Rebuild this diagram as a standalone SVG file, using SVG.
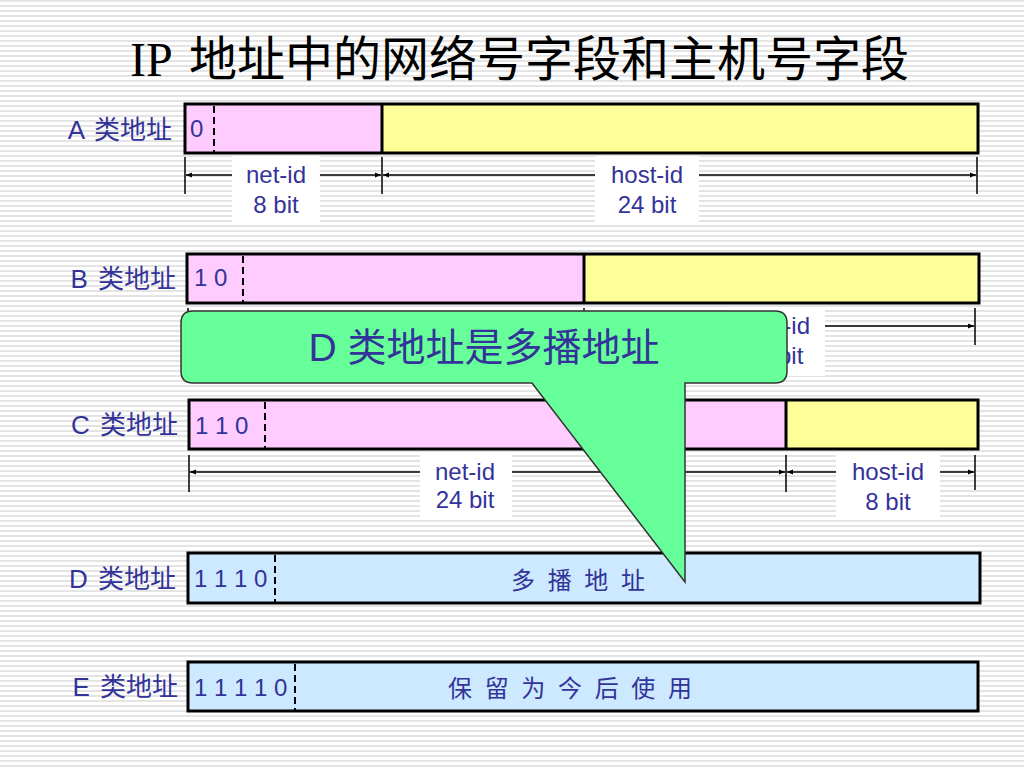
<svg xmlns="http://www.w3.org/2000/svg" width="1024" height="768" viewBox="0 0 1024 768">
<defs>
<pattern id="stripes" width="8" height="5" patternUnits="userSpaceOnUse">
<rect width="8" height="5" fill="#ffffff"/>
<rect y="0" width="8" height="2" fill="#e4e4e4"/>
</pattern>
<marker id="arr" viewBox="0 0 10 10" refX="10" refY="5" markerWidth="10" markerHeight="6" markerUnits="userSpaceOnUse" orient="auto-start-reverse">
<path d="M0,1 L10,5 L0,9 z" fill="#000"/>
</marker>
<style>
.lbl{font-family:"Liberation Sans","Noto Sans CJK SC",sans-serif;font-size:26px;fill:#333399;text-anchor:end;word-spacing:3px}
.bits{font-family:"Liberation Sans","Noto Sans CJK SC",sans-serif;font-size:24px;fill:#333399}
.dim{font-family:"Liberation Sans","Noto Sans CJK SC",sans-serif;font-size:24px;fill:#333399;text-anchor:middle}
.cn{font-family:"Liberation Sans","Noto Sans CJK SC",sans-serif;font-size:24px;fill:#333399;text-anchor:middle;word-spacing:6px}
.bar{stroke:#000;stroke-width:3}
.pink{fill:#ffccff}
.yel{fill:#ffff99}
.blue{fill:#cce9ff}
.dash{stroke:#000;stroke-width:2;stroke-dasharray:7,4}
.tick{stroke:#000;stroke-width:1.5}
.dl{stroke:#000;stroke-width:1.5;marker-start:url(#arr);marker-end:url(#arr)}
.wb{fill:#ffffff}
</style>
</defs>
<rect width="1024" height="768" fill="url(#stripes)"/>
<text x="130" y="76" font-family="'Liberation Serif','Noto Sans CJK SC',serif" font-size="48" fill="#000"><tspan>IP </tspan><tspan font-family="'Noto Sans CJK SC',sans-serif" dx="6">地址中的网络号字段和主机号字段</tspan></text>

<g id="classA">
<text class="lbl" x="172" y="139">A 类地址</text>
<rect class="pink" x="185" y="104" width="197" height="49"/>
<rect class="yel" x="382" y="104" width="596" height="49"/>
<rect class="bar" x="185" y="104" width="793" height="49" fill="none"/>
<line class="bar" x1="382" y1="104" x2="382" y2="153"/>
<line class="dash" x1="214" y1="106" x2="214" y2="152"/>
<text class="bits" x="190" y="137">0</text>
</g>
<g id="classA-dims">
<line class="tick" x1="185" y1="157" x2="185" y2="194"/>
<line class="tick" x1="382" y1="157" x2="382" y2="194"/>
<line class="tick" x1="977" y1="157" x2="977" y2="194"/>
<line class="dl" x1="186" y1="175" x2="381" y2="175"/>
<line class="dl" x1="383" y1="175" x2="976" y2="175"/>
<rect class="wb" x="232" y="156" width="88" height="66"/>
<text class="dim" x="276" y="183">net-id</text>
<text class="dim" x="276" y="213">8 bit</text>
<rect class="wb" x="595" y="156" width="104" height="66"/>
<text class="dim" x="647" y="183">host-id</text>
<text class="dim" x="647" y="213">24 bit</text>
</g>

<g id="classB">
<text class="lbl" x="176" y="288">B 类地址</text>
<rect class="pink" x="187" y="254" width="397" height="49"/>
<rect class="yel" x="584" y="254" width="395" height="49"/>
<rect class="bar" x="187" y="254" width="792" height="49" fill="none"/>
<line class="bar" x1="584" y1="254" x2="584" y2="303"/>
<line class="dash" x1="243" y1="256" x2="243" y2="302"/>
<text class="bits" x="194" y="286">1 0</text>
</g>
<g id="classB-dims">
<line class="tick" x1="188" y1="308" x2="188" y2="345"/>
<line class="tick" x1="584" y1="308" x2="584" y2="345"/>
<line class="tick" x1="975" y1="308" x2="975" y2="345"/>
<line class="dl" x1="189" y1="326" x2="583" y2="326"/>
<line class="dl" x1="585" y1="326" x2="974" y2="326"/>
<rect class="wb" x="728" y="310" width="97" height="66"/>
<text class="dim" x="774" y="334">host-id</text>
<text class="dim" x="774" y="364">16 bit</text>
</g>

<g id="classC">
<text class="lbl" x="178" y="434">C 类地址</text>
<rect class="pink" x="189" y="400" width="597" height="49"/>
<rect class="yel" x="786" y="400" width="192" height="49"/>
<rect class="bar" x="189" y="400" width="789" height="49" fill="none"/>
<line class="bar" x1="786" y1="400" x2="786" y2="449"/>
<line class="dash" x1="265" y1="402" x2="265" y2="448"/>
<text class="bits" x="195" y="434">1 1 0</text>
</g>
<g id="classC-dims">
<line class="tick" x1="189" y1="455" x2="189" y2="492"/>
<line class="tick" x1="786" y1="455" x2="786" y2="492"/>
<line class="tick" x1="975" y1="455" x2="975" y2="490"/>
<line class="dl" x1="190" y1="472" x2="785" y2="472"/>
<line class="dl" x1="787" y1="472" x2="974" y2="472"/>
<rect class="wb" x="420" y="455" width="92" height="63"/>
<text class="dim" x="465" y="480">net-id</text>
<text class="dim" x="465" y="508">24 bit</text>
<rect class="wb" x="836" y="455" width="104" height="63"/>
<text class="dim" x="888" y="480">host-id</text>
<text class="dim" x="888" y="510">8 bit</text>
</g>

<g id="classD">
<text class="lbl" x="176" y="588">D 类地址</text>
<rect class="blue bar" x="188" y="553" width="792" height="50"/>
<line class="dash" x1="275" y1="555" x2="275" y2="602"/>
<text class="bits" x="194" y="587">1 1 1 0</text>
<text class="cn" x="578" y="589">多 播 地 址</text>
</g>

<g id="classE">
<text class="lbl" x="178" y="696">E 类地址</text>
<rect class="blue bar" x="188" y="662" width="790" height="49"/>
<line class="dash" x1="295" y1="664" x2="295" y2="710"/>
<text class="bits" x="194" y="696">1 1 1 1 0</text>
<text class="cn" x="570" y="697">保 留 为 今 后 使 用</text>
</g>

<g id="callout">
<path d="M193,311 H775 Q787,311 787,323 V371 Q787,383 775,383 H685 V582 L532,383 H193 Q181,383 181,371 V323 Q181,311 193,311 Z" fill="#66ff99" stroke="#333333" stroke-width="1.5"/>
<text x="484" y="361" text-anchor="middle" font-family="'Liberation Sans','Noto Sans CJK SC',sans-serif" font-size="39" fill="#333399">D 类地址是多播地址</text>
</g>
</svg>
